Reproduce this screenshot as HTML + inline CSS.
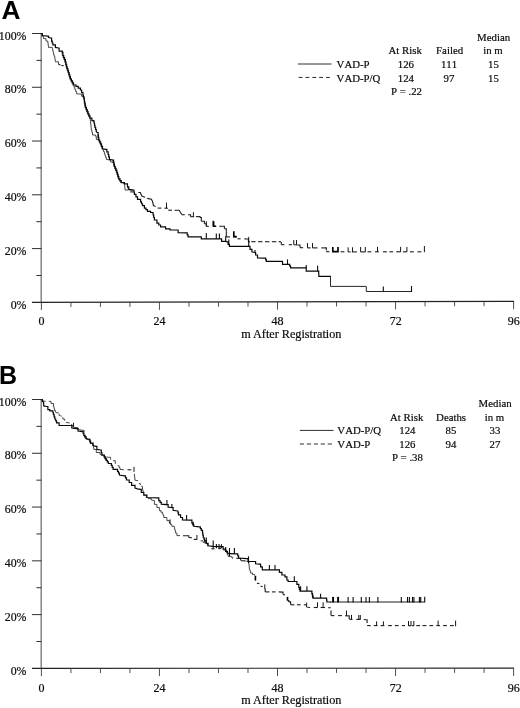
<!DOCTYPE html>
<html><head><meta charset="utf-8"><title>Figure</title>
<style>
html,body{margin:0;padding:0;background:#fff;}
svg{display:block;}
text{font-family:"Liberation Serif","Times New Roman",serif;fill:#0a0a0a;stroke:#0a0a0a;stroke-width:0.2;}
.al{font-size:12px;}
.lg{font-size:10.8px;font-kerning:none;}
.pl{font-family:"Liberation Sans",Arial,sans-serif;font-weight:bold;font-size:25px;fill:#000;stroke:none;}
.ax{stroke:#222;stroke-width:1.12;fill:none;}
.ay{stroke:#333;stroke-width:0.9;fill:none;}
.ll{stroke:#2e2e2e;stroke-width:1;fill:none;}
.ld{stroke:#222;stroke-width:0.95;fill:none;}
.ty{stroke:#262626;stroke-width:0.95;fill:none;}
.tk{stroke:#3c3c3c;stroke-width:0.9;fill:none;}
.so{stroke:#080808;stroke-width:1.2;fill:none;stroke-linejoin:miter;}
.sf{stroke:#1c1c1c;stroke-width:0.95;fill:none;}
.st{stroke:#0a0a0a;stroke-width:1.1;fill:none;}
.sT{stroke:#000;stroke-width:1.9;fill:none;}
.da{stroke:#333;stroke-width:0.9;fill:none;}
.dd{stroke:#1c1c1c;stroke-width:1.1;fill:none;}
.dt{stroke:#161616;stroke-width:1.0;fill:none;}
.dT{stroke:#000;stroke-width:1.65;fill:none;}
</style></head><body>
<svg width="520" height="708" viewBox="0 0 520 708">
<rect width="520" height="708" fill="#fff"/>
<text class="pl" transform="translate(1.4 18.8) scale(1.05 1)">A</text>
<text class="pl" transform="translate(-0.9 383.6)">B</text>
<g id="plotA">
<path class="ay" d="M41.15 33.0V302.35"/>
<path class="ax" d="M32 302.35L514.0 301.4"/>
<path class="ty" d="M36.4 275.47H41.5"/>
<path class="ty" d="M32.0 248.58H41.5"/>
<path class="ty" d="M36.4 221.70H41.5"/>
<path class="ty" d="M32.0 194.81H41.5"/>
<path class="ty" d="M36.4 167.93H41.5"/>
<path class="ty" d="M32.0 141.04H41.5"/>
<path class="ty" d="M36.4 114.16H41.5"/>
<path class="ty" d="M32.0 87.27H41.5"/>
<path class="ty" d="M36.4 60.39H41.5"/>
<path class="ty" d="M32.0 33.50H41.5"/>
<path class="tk" d="M41.40 302.33V310.13"/>
<path class="tk" d="M70.91 302.27V306.97"/>
<path class="tk" d="M100.43 302.22V306.92"/>
<path class="tk" d="M129.94 302.16V306.86"/>
<path class="tk" d="M159.45 302.10V309.90"/>
<path class="tk" d="M188.96 302.04V306.74"/>
<path class="tk" d="M218.48 301.98V306.68"/>
<path class="tk" d="M247.99 301.92V306.62"/>
<path class="tk" d="M277.50 301.87V309.67"/>
<path class="tk" d="M307.01 301.81V306.51"/>
<path class="tk" d="M336.52 301.75V306.45"/>
<path class="tk" d="M366.04 301.69V306.39"/>
<path class="tk" d="M395.55 301.63V309.43"/>
<path class="tk" d="M425.06 301.57V306.27"/>
<path class="tk" d="M454.58 301.52V306.22"/>
<path class="tk" d="M484.09 301.46V306.16"/>
<path class="tk" d="M513.60 301.40V309.20"/>
<text class="al" transform="translate(26.5 308.50) scale(0.965 1)" style="font-size:12.3px" text-anchor="end">0%</text>
<text class="al" transform="translate(26.5 254.73) scale(0.965 1)" style="font-size:12.3px" text-anchor="end">20%</text>
<text class="al" transform="translate(26.5 200.96) scale(0.965 1)" style="font-size:12.3px" text-anchor="end">40%</text>
<text class="al" transform="translate(26.5 147.19) scale(0.965 1)" style="font-size:12.3px" text-anchor="end">60%</text>
<text class="al" transform="translate(26.5 93.42) scale(0.965 1)" style="font-size:12.3px" text-anchor="end">80%</text>
<text class="al" transform="translate(26.5 39.65) scale(0.965 1)" style="font-size:12.3px" text-anchor="end">100%</text>
<text class="al" x="41.50" y="325.05" text-anchor="middle">0</text>
<text class="al" x="159.55" y="325.05" text-anchor="middle">24</text>
<text class="al" x="277.60" y="325.05" text-anchor="middle">48</text>
<text class="al" x="395.65" y="325.05" text-anchor="middle">72</text>
<text class="al" x="513.70" y="325.05" text-anchor="middle">96</text>
<text class="al" style="font-size:12.2px" x="241.2" y="337.65">m After Registration</text>
<path class="da" d="M41.30 34.30H42.40V36.45H43.50V38.60H46.00V41.10H47.90V43.60H48.20V45.50H48.50V47.40H52.30V48.60H52.70V50.50H53.10V52.40H53.50V54.30H54.15V56.45H54.80V58.60H55.10V60.20H55.40V61.80H58.50V64.30"/>
<path class="da" d="M73.50 85.60H74.15V87.50H74.80V89.40H75.70V91.60H76.60V93.80L79.80 94.00H81.60V96.30H84.10V98.80"/>
<path class="da" d="M90.00 118.80H90.30V120.90H90.60V123.00H90.83V125.33H91.07V127.67H91.30V130.00H91.90V132.50H92.50V135.00H95.60V136.30H96.30V139.40H98.40V140.50"/>
<path class="da" d="M102.50 149.40H103.45V151.60H104.40V153.80H105.03V155.67H105.67V157.53H106.30V159.40L110.00 160.00H110.60V161.90L113.20 162.50"/>
<path class="da" d="M124.40 184.40H124.60V186.27H124.80V188.13H125.00V190.00L128.00 190.00"/>
<path class="da" d="M61.75 52.75H62.35V55.85H63.18V57.95H64.02V60.05H64.85V62.15H65.45V64.65H66.05V67.15H66.68V69.05H67.32V70.95H67.95V72.85H68.58V74.95H69.22V77.05H69.85V79.15H70.88V81.22H71.92V83.28H72.95V85.35"/>
<path class="da" d="M83.85 101.65H84.25V103.72H84.65V105.78H85.05V107.85H85.88V109.95H86.72V112.05H87.55V114.15H88.50V116.30H89.45V118.45"/>
<path class="da" d="M97.55 135.35H97.90V137.85H98.25V140.35H99.15V142.25H100.05V144.15H101.00V146.65H101.95V149.15"/>
<path class="da" d="M112.55 160.35H112.98V162.45H113.42V164.55H113.85V166.65H114.68V168.72H115.52V170.78H116.35V172.85H116.98V174.95H117.62V177.05H118.25V179.15H119.50V181.00H120.75V182.85H123.85V184.15"/>
<path class="da" d="M126.95 187.25H128.25V189.75L132.85 190.35"/>
<path class="dd" d="M58.50 64.30L60.50 65.00"/>
<path class="dd" d="M61.50 65.50L63.60 65.60"/>
<path class="dd" d="M190.60 216.70L194.20 216.70"/>
<path class="dd" d="M196.00 216.60L198.10 216.60"/>
<path class="dd" d="M198.10 216.60H200.00V217.50"/>
<path class="dd" d="M200.00 217.50H201.30V221.30"/>
<path class="dd" d="M201.30 221.30H204.40V223.80"/>
<path class="dd" d="M204.40 223.80H206.30V226.30"/>
<path class="dd" d="M206.30 226.30L208.80 226.30"/>
<path class="dd" d="M213.10 226.30L216.30 226.30"/>
<path class="dd" d="M219.40 226.30L222.50 226.30"/>
<path class="dd" d="M222.50 226.30H224.40V228.80"/>
<path class="dd" d="M224.40 228.80H226.30V231.30"/>
<path class="dd" d="M226.30 231.30L226.30 236.90"/>
<path class="dd" d="M226.30 236.90L230.00 236.90"/>
<path class="dd" d="M233.40 236.70L236.90 236.90"/>
<path class="dd" d="M237.50 238.80L240.60 238.80"/>
<path class="dd" d="M244.40 238.90L246.90 239.00"/>
<path class="dd" d="M246.90 239.00H248.40V241.70"/>
<path class="dd" d="M248.60 241.70L250.00 241.70"/>
<path class="dd" d="M251.30 241.70L255.60 241.70"/>
<path class="dd" d="M258.10 241.70L262.50 241.70"/>
<path class="dd" d="M265.00 241.70L269.40 241.70"/>
<path class="dd" d="M271.90 241.70L276.30 241.70"/>
<path class="dd" d="M278.60 241.70L281.00 241.70"/>
<path class="dd" d="M281.30 241.90L281.30 244.40"/>
<path class="dd" d="M281.30 244.70L284.40 244.70"/>
<path class="dd" d="M288.80 244.70L291.90 244.70"/>
<path class="dd" d="M293.80 244.80L297.50 245.00"/>
<path class="dd" d="M297.50 245.00H300.00V247.50"/>
<path class="dd" d="M300.00 247.60L303.10 247.80"/>
<path class="dd" d="M307.50 247.90L310.60 247.90"/>
<path class="dd" d="M312.50 247.90L317.50 247.90"/>
<path class="dd" d="M321.30 247.90L325.00 247.90"/>
<path class="dd" d="M325.00 247.90H326.30V250.60"/>
<path class="dd" d="M326.30 251.60L329.40 251.80"/>
<path class="dd" d="M340.60 251.80L344.40 251.80"/>
<path class="dd" d="M348.10 251.90L350.60 251.90"/>
<path class="dd" d="M351.90 251.90L356.90 251.90"/>
<path class="dd" d="M360.60 251.90L365.40 251.90"/>
<path class="dd" d="M367.50 251.80L371.30 251.80"/>
<path class="dd" d="M375.00 251.80L378.80 251.80"/>
<path class="dd" d="M383.00 251.80L386.90 251.80"/>
<path class="dd" d="M389.40 251.80L393.10 251.80"/>
<path class="dd" d="M396.30 251.80L400.60 251.80"/>
<path class="dd" d="M403.00 251.80L406.90 251.80"/>
<path class="dd" d="M410.00 251.80L413.80 251.80"/>
<path class="dd" d="M417.50 251.80L421.30 251.80"/>
<path class="dd" d="M130.2 191.9H133.2"/>
<path class="dd" d="M138.3 192.5H140.4L141.0 194.3L142.1 196.3L145.1 197.2"/>
<path class="dd" d="M147.2 198.4L151.4 199.3L152.3 201.0L152.9 203.0L153.4 205.5L155.6 206.4"/>
<path class="dd" d="M157.6 208.1H161.4"/>
<path class="dd" d="M164.4 208.2H167.8"/>
<path class="dd" d="M168.2 210.2H172.0"/>
<path class="dd" d="M174.5 210.2H179.2L180.4 212.2L181.7 214.4"/>
<path class="dd" d="M181.7 214.7H184.7"/>
<path class="dd" d="M188.0 214.8H190.6V216.7"/>
<path class="dt" d="M166.50 202.60V208.50"/>
<path class="dt" d="M193.40 212.20V216.80"/>
<path class="dt" d="M206.30 221.30V226.30"/>
<path class="dt" d="M213.10 220.60V226.30"/>
<path class="dt" d="M248.70 236.90V241.80"/>
<path class="dt" d="M293.80 240.00V244.80"/>
<path class="dt" d="M296.50 240.00V244.80"/>
<path class="dt" d="M307.50 243.10V247.90"/>
<path class="dt" d="M312.50 243.10V247.90"/>
<path class="dt" d="M348.10 247.30V252.00"/>
<path class="dt" d="M352.50 247.30V252.00"/>
<path class="dt" d="M360.60 247.00V251.90"/>
<path class="dt" d="M365.30 247.00V251.90"/>
<path class="dt" d="M377.50 246.90V251.90"/>
<path class="dt" d="M400.60 246.90V251.90"/>
<path class="dt" d="M406.90 246.90V251.90"/>
<path class="dt" d="M424.40 246.00V252.20"/>
<path class="dT" d="M213.6 221.3V226.2H215.8"/>
<path class="dT" d="M233.8 231.3V236.6H236.6"/>
<path class="dT" d="M332.8 246.9V251.6H338.0V246.9"/>
<path class="so" d="M41.30 33.60H42.30V35.50L47.30 36.10H48.50V37.40L50.40 38.00H51.60V41.10H52.25V43.00H52.90V44.90H55.40V47.40L58.50 48.00H59.10V51.10H62.30V52.40H62.90V55.50H63.73V57.60H64.57V59.70H65.40V61.80H66.00V64.30H66.60V66.80H67.23V68.70H67.87V70.60H68.50V72.50H69.13V74.60H69.77V76.70H70.40V78.80H71.43V80.87H72.47V82.93H73.50V85.00H76.00V86.30H78.20V88.15H80.40V90.00H81.65V92.50H82.90V95.00H83.40V97.10H83.90V99.20H84.40V101.30H84.80V103.37H85.20V105.43H85.60V107.50H86.43V109.60H87.27V111.70H88.10V113.80H89.05V115.95H90.00V118.10H91.90V120.60H93.80V121.90H94.20V123.77H94.60V125.63H95.00V127.50H95.65V129.70H96.30V131.90L97.50 132.50H98.10V135.00H98.45V137.50H98.80V140.00H99.70V141.90H100.60V143.80H101.55V146.30H102.50V148.80L105.60 149.40H106.85V151.90H108.10V154.40H108.75V156.90H109.40V159.40L113.10 160.00H113.53V162.10H113.97V164.20H114.40V166.30H115.23V168.37H116.07V170.43H116.90V172.50H117.53V174.60H118.17V176.70H118.80V178.80H120.05V180.65H121.30V182.50H124.40V183.80H127.50V186.90H128.80V189.40L133.40 190.00H133.90V192.20H134.40V194.40H135.95V196.90H137.50V199.40H140.60V201.90H141.55V203.75H142.50V205.60H144.40V208.10H145.95V209.70H147.50V211.30H150.60V212.50H153.10V215.00H153.75V217.50H154.40V220.00H156.90V223.10H158.75V225.00H160.60V226.90H165.60V228.80H170.00V229.80L176.30 230.00H178.10V232.60L186.30 232.80H187.20V234.85H188.10V236.90L200.00 236.90H201.30V238.80L220.00 238.80H221.60V241.30L225.80 241.30L226.90 241.90H228.10V244.40H229.40V246.30L248.60 246.30H250.00V249.40H251.90V251.90L254.40 252.50H255.60V255.00H257.50V257.80L265.00 258.10H265.65V259.70H266.30V261.30L281.30 261.30H282.50V264.40L288.80 264.40H289.70V266.10H290.60V267.80L306.20 267.80L306.20 271.10L317.90 271.10H318.70V273.00L318.90 276.30L330.50 276.30"/>
<path class="sf" d="M330.5 275.8 L330.5 286.4 L366.3 286.4 L366.3 291.5 L411.5 291.5"/>
<path class="st" d="M206.30 233.00V238.80"/>
<path class="st" d="M216.30 233.50V238.80"/>
<path class="st" d="M219.40 233.50V238.80"/>
<path class="st" d="M225.70 236.30V241.30"/>
<path class="st" d="M228.80 239.40V244.60"/>
<path class="st" d="M248.70 240.50V246.30"/>
<path class="st" d="M255.00 250.00V253.00"/>
<path class="st" d="M287.50 259.40V264.40"/>
<path class="st" d="M306.20 264.90V268.00"/>
<path class="st" d="M317.60 265.70V271.10"/>
<path class="st" d="M383.30 286.60V291.50"/>
<path class="st" d="M411.50 286.00V292.00"/>
<path class="ll" d="M297.9 64.0H331.5"/>
<path class="ld" stroke-dasharray="3.9 2.95" d="M298.6 77.45H330.5"/>
<text class="lg" x="336.6" y="67.80">VAD-P</text>
<text class="lg" x="336.6" y="81.50">VAD-P/Q</text>
<text class="lg" x="405.2" y="54.30" text-anchor="middle">At Risk</text>
<text class="lg" x="449.6" y="54.30" text-anchor="middle">Failed</text>
<text class="lg" x="493.6" y="40.90" text-anchor="middle">Median</text>
<text class="lg" x="493.0" y="54.30" text-anchor="middle">in m</text>
<text class="lg" x="405.9" y="68.10" text-anchor="middle">126</text>
<text class="lg" x="449.0" y="68.10" text-anchor="middle">111</text>
<text class="lg" x="493.5" y="68.10" text-anchor="middle">15</text>
<text class="lg" x="405.9" y="81.90" text-anchor="middle">124</text>
<text class="lg" x="449.0" y="81.90" text-anchor="middle">97</text>
<text class="lg" x="493.5" y="81.90" text-anchor="middle">15</text>
<text class="lg" x="391.0" y="94.90">P = .22</text>
</g>
<g id="plotB">
<path class="ay" d="M41.15 399.0V668.4"/>
<path class="ax" d="M32 668.4L514.0 668.1"/>
<path class="ty" d="M36.4 641.51H41.5"/>
<path class="ty" d="M32.0 614.62H41.5"/>
<path class="ty" d="M36.4 587.73H41.5"/>
<path class="ty" d="M32.0 560.84H41.5"/>
<path class="ty" d="M36.4 533.95H41.5"/>
<path class="ty" d="M32.0 507.06H41.5"/>
<path class="ty" d="M36.4 480.17H41.5"/>
<path class="ty" d="M32.0 453.28H41.5"/>
<path class="ty" d="M36.4 426.39H41.5"/>
<path class="ty" d="M32.0 399.50H41.5"/>
<path class="tk" d="M41.40 668.39V676.19"/>
<path class="tk" d="M70.91 668.38V673.08"/>
<path class="tk" d="M100.43 668.36V673.06"/>
<path class="tk" d="M129.94 668.34V673.04"/>
<path class="tk" d="M159.45 668.32V676.12"/>
<path class="tk" d="M188.96 668.30V673.00"/>
<path class="tk" d="M218.48 668.28V672.98"/>
<path class="tk" d="M247.99 668.27V672.97"/>
<path class="tk" d="M277.50 668.25V676.05"/>
<path class="tk" d="M307.01 668.23V672.93"/>
<path class="tk" d="M336.52 668.21V672.91"/>
<path class="tk" d="M366.04 668.19V672.89"/>
<path class="tk" d="M395.55 668.17V675.97"/>
<path class="tk" d="M425.06 668.16V672.86"/>
<path class="tk" d="M454.58 668.14V672.84"/>
<path class="tk" d="M484.09 668.12V672.82"/>
<path class="tk" d="M513.60 668.10V675.90"/>
<text class="al" transform="translate(26.5 674.55) scale(0.965 1)" style="font-size:12.3px" text-anchor="end">0%</text>
<text class="al" transform="translate(26.5 620.77) scale(0.965 1)" style="font-size:12.3px" text-anchor="end">20%</text>
<text class="al" transform="translate(26.5 566.99) scale(0.965 1)" style="font-size:12.3px" text-anchor="end">40%</text>
<text class="al" transform="translate(26.5 513.21) scale(0.965 1)" style="font-size:12.3px" text-anchor="end">60%</text>
<text class="al" transform="translate(26.5 459.43) scale(0.965 1)" style="font-size:12.3px" text-anchor="end">80%</text>
<text class="al" transform="translate(26.5 405.65) scale(0.965 1)" style="font-size:12.3px" text-anchor="end">100%</text>
<text class="al" x="41.50" y="691.50" text-anchor="middle">0</text>
<text class="al" x="159.55" y="691.50" text-anchor="middle">24</text>
<text class="al" x="277.60" y="691.50" text-anchor="middle">48</text>
<text class="al" x="395.65" y="691.50" text-anchor="middle">72</text>
<text class="al" x="513.70" y="691.50" text-anchor="middle">96</text>
<text class="al" style="font-size:12.2px" x="241.2" y="704.00">m After Registration</text>
<path class="da" d="M41.50 400.00H43.00V401.20L45.60 401.30"/>
<path class="da" d="M48.80 401.20L49.60 401.40H51.00V403.50H53.50V406.50H54.05V408.55H54.60V410.60H55.50V412.40"/>
<path class="da" d="M56.00 412.70L58.70 412.80"/>
<path class="da" d="M59.00 413.60L59.20 415.40L61.60 416.20"/>
<path class="da" d="M62.50 417.40H62.90V419.00H64.60V420.60"/>
<path class="da" d="M66.00 422.30L69.70 423.00"/>
<path class="da" d="M71.00 424.40H71.60V425.30H72.90V427.10L76.00 427.60H77.90V429.60L82.90 430.30H84.10V432.80"/>
<path class="da" d="M93.10 446.00H93.45V447.70H93.80V449.40H96.30V452.50H100.00V454.40H101.90V455.40"/>
<path class="da" d="M106.30 457.00L108.80 457.30H110.60V459.60"/>
<path class="da" d="M113.00 460.60L113.60 460.70H115.30V463.80"/>
<path class="da" d="M117.60 465.60L118.20 465.70H119.10V467.55H120.00V469.40L123.80 469.80"/>
<path class="da" d="M134.30 474.00H134.50V476.07H134.70V478.13H134.90V480.20L138.10 480.70"/>
<path class="da" d="M138.90 483.60H140.40V485.00"/>
<path class="da" d="M141.20 486.20L142.00 486.40H142.50V489.40H142.90V491.25H143.30V493.10"/>
<path class="da" d="M148.00 498.60H151.30V500.00L154.40 500.60L154.40 504.40H156.90V507.50H159.40V510.60H160.95V512.20H162.50V513.80H163.15V515.65H163.80V517.50H166.90V520.60H169.40V523.10H170.65V524.70H171.90V526.30H174.40V528.80H175.00V530.95H175.60V533.10H176.90V535.60L180.00 535.60"/>
<path class="da" d="M200.60 540.80H203.00V542.30H205.00V543.60"/>
<path class="da" d="M223.10 550.00H226.30V552.50H227.20V554.40H228.10V556.30H231.30V557.20H232.70V558.80"/>
<path class="da" d="M246.30 561.30H248.80V563.80H249.00V565.67H249.20V567.53H249.40V569.40H250.00V571.25H250.60V573.10H252.50V574.50H254.60V575.60"/>
<path class="da" d="M83.35 435.65H84.50V437.30H85.65V438.95L88.75 439.65H89.40V441.55H90.05V443.45H92.55V445.95"/>
<path class="da" d="M101.35 455.35H103.85V457.25H104.80V458.95H105.75V460.65"/>
<path class="da" d="M143.25 495.35H146.35V497.85"/>
<path class="da" d="M204.05 541.15H205.85V543.65H207.55V546.15"/>
<path class="dd" d="M127.50 469.80L131.30 469.80"/>
<path class="dd" d="M183.00 535.70L186.90 535.80"/>
<path class="dd" d="M186.90 535.80H188.80V537.50"/>
<path class="dd" d="M188.80 537.50L192.00 537.80"/>
<path class="dd" d="M193.80 539.40L196.90 539.50"/>
<path class="dd" d="M211.30 548.80L214.60 548.80"/>
<path class="dd" d="M218.40 548.60L221.30 548.40"/>
<path class="dd" d="M236.30 558.30L238.80 558.30"/>
<path class="dd" d="M238.80 558.40H240.60V560.50"/>
<path class="dd" d="M241.00 560.70L245.60 560.90"/>
<path class="dd" d="M256.90 583.20L259.40 583.60"/>
<path class="dd" d="M260.60 586.20L262.50 586.60"/>
<path class="dd" d="M264.90 589.40H265.20V591.90"/>
<path class="dd" d="M265.20 591.90L269.40 591.90"/>
<path class="dd" d="M271.90 591.90L275.60 591.90"/>
<path class="dd" d="M278.80 591.90L281.90 592.10"/>
<path class="dd" d="M281.90 592.10H283.00V594.30"/>
<path class="dd" d="M283.00 594.50L285.00 594.90"/>
<path class="dd" d="M287.60 600.60H288.80V601.90"/>
<path class="dd" d="M288.80 601.90H290.60V604.80"/>
<path class="dd" d="M290.60 604.80L294.40 604.80"/>
<path class="dd" d="M296.90 604.80L300.60 604.80"/>
<path class="dd" d="M303.80 604.80L306.60 604.80"/>
<path class="dd" d="M307.30 607.30L310.00 607.50"/>
<path class="dd" d="M313.80 607.50L317.50 607.50"/>
<path class="dd" d="M320.60 607.50L325.00 607.50"/>
<path class="dd" d="M328.10 607.70L330.80 607.80"/>
<path class="dd" d="M331.00 610.60L331.00 615.40"/>
<path class="dd" d="M331.00 615.60L334.40 615.60"/>
<path class="dd" d="M338.10 615.60L341.90 615.60"/>
<path class="dd" d="M345.00 615.70L348.30 615.90"/>
<path class="dd" d="M348.30 615.90H349.20V619.00"/>
<path class="dd" d="M349.20 619.30L352.50 619.40"/>
<path class="dd" d="M356.30 619.40L360.60 619.40"/>
<path class="dd" d="M363.80 619.50L366.40 619.70"/>
<path class="dd" d="M366.40 619.70H367.10V623.00"/>
<path class="dd" d="M367.10 625.50L370.60 625.60"/>
<path class="dd" d="M373.80 625.60L377.50 625.60"/>
<path class="dd" d="M380.60 625.60L384.40 625.60"/>
<path class="dd" d="M388.10 625.60L391.90 625.60"/>
<path class="dd" d="M395.00 625.60L398.60 625.60"/>
<path class="dd" d="M401.90 625.60L405.00 625.60"/>
<path class="dd" d="M408.50 625.70L411.00 625.70"/>
<path class="dd" d="M411.90 625.70L414.00 625.70"/>
<path class="dd" d="M416.30 625.60L420.00 625.60"/>
<path class="dd" d="M422.50 625.60L426.30 625.60"/>
<path class="dd" d="M429.40 625.60L433.10 625.60"/>
<path class="dd" d="M436.30 625.60L440.00 625.60"/>
<path class="dd" d="M443.10 625.60L446.90 625.60"/>
<path class="dd" d="M450.00 625.60L453.80 625.60"/>
<path class="dt" d="M73.50 422.80V427.00"/>
<path class="dt" d="M134.00 466.90V471.90"/>
<path class="dt" d="M170.00 519.40V523.80"/>
<path class="dt" d="M196.90 535.00V539.90"/>
<path class="dt" d="M264.80 584.40V589.40"/>
<path class="dt" d="M306.60 602.60V607.30"/>
<path class="dt" d="M317.50 602.30V607.50"/>
<path class="dt" d="M323.10 602.30V607.50"/>
<path class="dt" d="M346.50 610.60V615.70"/>
<path class="dt" d="M351.50 614.80V619.40"/>
<path class="dt" d="M358.80 615.00V619.40"/>
<path class="dt" d="M360.30 615.00V619.40"/>
<path class="dt" d="M376.60 621.30V625.60"/>
<path class="dt" d="M383.40 621.30V625.60"/>
<path class="dt" d="M408.50 621.00V626.00"/>
<path class="dt" d="M411.00 621.00V626.00"/>
<path class="dt" d="M413.80 621.00V626.00"/>
<path class="dt" d="M438.10 620.60V625.70"/>
<path class="dt" d="M455.60 620.60V626.30"/>
<path class="dT" d="M255.40 575.80V580.60"/>
<path class="dT" d="M287.50 596.90V600.60"/>
<path class="so" d="M41.30 399.60H42.30V401.50L43.50 402.10L43.80 405.90L46.60 406.50H47.90V409.60H49.80V410.90L52.30 410.90H52.90V412.75H53.50V414.60H54.15V416.80H54.80V419.00H55.70V420.90H56.60V422.80H59.10V425.30L69.80 425.50H71.80V428.00L76.20 428.60H78.00V431.10L82.40 431.70H83.15V433.50H83.90V435.30H85.05V436.95H86.20V438.60L89.30 439.30H89.95V441.20H90.60V443.10H93.10V445.60L95.60 446.30H96.90V449.40L100.60 450.00H101.25V452.50H101.90V455.00H104.40V456.90H105.35V458.60H106.30V460.30H107.30V461.90H108.30V463.50H111.30V465.30H112.20V467.35H113.10V469.40H117.50V471.30H118.45V473.15H119.40V475.00L124.40 475.90H125.45V477.95H126.50V480.00H129.20V482.50H131.60V485.30H135.00V488.00L137.50 488.90L140.40 489.40H141.30V492.50H143.80V495.00H146.90V497.50L157.50 497.80H158.80V500.60H160.05V502.40H161.30V504.20L166.30 504.60H168.10V507.10L171.30 507.50H173.10V510.30L177.50 511.00H178.00V512.90H178.50V514.80H180.60V517.50H182.50V520.00L190.40 520.20H191.90V523.10H192.85V524.70H193.80V526.30L199.40 526.90H200.35V528.60H201.30V530.30H202.50V533.10H202.90V535.30H203.30V537.50H203.95V539.15H204.60V540.80H206.40V543.30H208.10V545.80L213.10 546.40L221.00 546.60H223.10V549.20H225.60V551.40H227.50V553.10L229.50 553.70L236.90 553.80H237.75V555.90H238.60V558.00L246.30 558.60H248.10V561.30L254.40 561.50H255.60V563.80L259.40 564.10H260.60V566.90H262.30V569.80L277.80 569.90H279.40V572.40H281.90V575.00H285.00V576.90H286.90V580.00H288.10V581.50L295.60 581.50H296.90V584.40H298.80V587.50H299.40V589.30H300.00V591.10L310.60 591.10H311.90V593.80H312.50V595.95H313.10V598.10L326.30 598.10H326.60V600.05H326.90V602.00L331.00 602.00"/>
<path class="sf" style="stroke-width:1.05" d="M330.5 602.0 L424.6 602.0"/>
<path class="st" d="M166.90 500.00V504.60"/>
<path class="st" d="M171.90 504.00V508.30"/>
<path class="st" d="M186.60 515.00V520.20"/>
<path class="st" d="M193.20 521.80V526.30"/>
<path class="st" d="M206.30 537.50V543.30"/>
<path class="st" d="M213.20 540.40V548.60"/>
<path class="st" d="M216.40 544.00V548.20"/>
<path class="st" d="M219.00 544.00V548.20"/>
<path class="st" d="M221.40 544.20V548.00"/>
<path class="st" d="M225.60 546.90V551.40"/>
<path class="st" d="M229.50 548.10V556.60"/>
<path class="st" d="M234.40 548.00V553.80"/>
<path class="st" d="M248.50 556.30V563.10"/>
<path class="st" d="M269.40 565.00V569.90"/>
<path class="st" d="M275.00 565.00V569.90"/>
<path class="st" d="M294.30 576.30V581.50"/>
<path class="st" d="M300.60 586.30V591.10"/>
<path class="st" d="M306.90 586.30V591.10"/>
<path class="st" d="M312.50 593.00V598.10"/>
<path class="st" d="M320.60 593.80V598.10"/>
<path class="st" d="M348.10 597.00V602.40"/>
<path class="st" d="M353.10 597.00V602.40"/>
<path class="st" d="M361.30 596.90V602.40"/>
<path class="st" d="M366.00 596.90V602.40"/>
<path class="st" d="M369.40 596.90V602.40"/>
<path class="st" d="M377.90 596.90V602.40"/>
<path class="st" d="M401.30 596.90V602.40"/>
<path class="st" d="M407.50 596.90V602.40"/>
<path class="st" d="M409.40 596.90V602.40"/>
<path class="st" d="M412.50 596.90V602.40"/>
<path class="st" d="M413.90 596.90V602.40"/>
<path class="st" d="M419.40 596.90V602.40"/>
<path class="st" d="M420.70 596.90V602.40"/>
<path class="st" d="M424.70 596.70V602.50"/>
<path class="sT" d="M333.10 596.90V602.40"/>
<path class="sT" d="M338.10 596.90V602.40"/>
<path class="ll" d="M299.8 430.4H333.5"/>
<path class="ld" stroke-dasharray="4.2 2.75" d="M299.9 444.0H332.2"/>
<text class="lg" x="337.35" y="434.10">VAD-P/Q</text>
<text class="lg" x="337.35" y="447.70">VAD-P</text>
<text class="lg" x="406.7" y="420.60" text-anchor="middle">At Risk</text>
<text class="lg" x="451.1" y="420.60" text-anchor="middle">Deaths</text>
<text class="lg" x="495.1" y="407.00" text-anchor="middle">Median</text>
<text class="lg" x="494.5" y="420.60" text-anchor="middle">in m</text>
<text class="lg" x="407.4" y="434.40" text-anchor="middle">124</text>
<text class="lg" x="450.95" y="434.40" text-anchor="middle">85</text>
<text class="lg" x="495.0" y="434.40" text-anchor="middle">33</text>
<text class="lg" x="407.4" y="448.10" text-anchor="middle">126</text>
<text class="lg" x="450.95" y="448.10" text-anchor="middle">94</text>
<text class="lg" x="495.0" y="448.10" text-anchor="middle">27</text>
<text class="lg" x="391.9" y="461.10">P = .38</text>
</g>
</svg>
</body></html>
